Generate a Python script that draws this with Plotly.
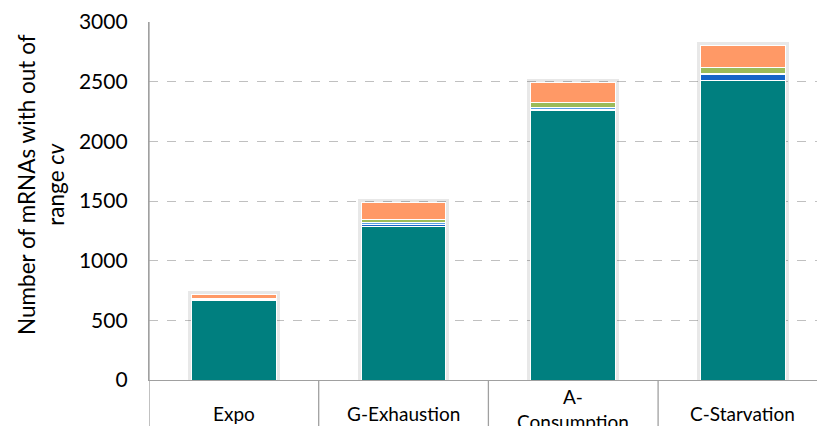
import plotly.graph_objects as go

categories = ["Expo", "G-Exhaustion", "A-Consumption", "C-Starvation"]
category_labels = ["Expo", "G-Exhaustion", "A-<br>Consumption", "C-Starvation"]
teal_vals = [668, 1285, 2257, 2512]
blue_vals = [4, 20, 6, 45]
lightblue_vals = [3, 15, 20, 8]
green_vals = [5, 25, 40, 50]
orange_vals = [40, 140, 170, 185]
y_ticks = [0, 500, 1000, 1500, 2000, 2500, 3000]

series = [
    ("s1", teal_vals, "#007F7F"),
    ("s2", blue_vals, "#1565C8"),
    ("s3", lightblue_vals, "#5A9FE6"),
    ("s4", green_vals, "#9BBB59"),
    ("s5", orange_vals, "#FF9966"),
]

FONT = "Lato"
W, H = 817, 426
ML, MR, MT, MB = 149, 0, 22, 46
pw = W - ML - MR
ph = H - MT - MB
CAT_W = 169.7

totals = [sum(v) for v in zip(teal_vals, blue_vals, lightblue_vals, green_vals, orange_vals)]

fig = go.Figure()
# soft shadow behind each stacked column (drawn on the base axis)
SH_W = 0.54
pad = (SH_W - 0.5) / 2 * CAT_W * 3000 / ph
fig.add_trace(go.Bar(
    x=categories, y=[t + pad for t in totals], width=SH_W,
    marker=dict(color="rgba(0,0,0,0.09)", line=dict(width=0)),
    showlegend=False, hoverinfo="skip", xaxis="x", yaxis="y",
))

for name, vals, col in series:
    fig.add_trace(go.Bar(
        x=categories, y=vals, name=name,
        marker=dict(color=col, line=dict(color="white", width=1)),
        width=0.5, showlegend=False, xaxis="x2", yaxis="y",
    ))

# category separators extending below the axis
shapes = []
for i in range(len(categories)):
    shapes.append(dict(type="line", xref="x", yref="paper",
                       x0=i - 0.5, x1=i - 0.5, y0=1 if i == 0 else 0, y1=-0.3,
                       line=dict(color="#A0A0A0", width=1.3)))

annotations = []
for cat, lab in zip(categories, category_labels):
    two = "<br>" in lab
    py = 409 if two else 413
    annotations.append(dict(x=cat, xref="x", y=(MT + ph - py) / ph, yref="paper",
                            text=lab, showarrow=False, xanchor="center", yanchor="middle",
                            font=dict(family=FONT, size=19, color="#000000")))

annotations.append(dict(x=(41 - ML) / pw, xref="paper", y=(MT + ph - 185) / ph, yref="paper",
                        text="Number of mRNAs with out of<br>range <i>cv</i>", textangle=-90,
                        showarrow=False, xanchor="center", yanchor="middle",
                        font=dict(family=FONT, size=22.5, color="#000000")))

xrange = [-0.5, (W - ML) / CAT_W - 0.5]
fig.update_layout(
    barmode="stack",
    width=W, height=H,
    margin=dict(l=ML, r=MR, t=MT, b=MB, autoexpand=False),
    paper_bgcolor="white", plot_bgcolor="white",
    shapes=shapes, annotations=annotations,
    xaxis=dict(range=xrange, showticklabels=False, ticks="",
               showgrid=False, showline=True, linecolor="#A0A0A0", linewidth=1.3,
               zeroline=False, type="category", automargin=False),
    xaxis2=dict(range=xrange, overlaying="x", showticklabels=False, ticks="",
                showgrid=False, showline=False, zeroline=False, type="category",
                automargin=False),
    yaxis=dict(range=[0, 3000], tickvals=y_ticks, ticktext=[str(v) for v in y_ticks],
               showgrid=True, gridcolor="#C0C0C0", griddash="dash", gridwidth=1,
               zeroline=False, showline=True, linecolor="#A0A0A0", linewidth=1.3,
               ticks="", ticklabelstandoff=16, automargin=False,
               tickfont=dict(family=FONT, size=21, color="#000000")),
)

fig.write_html("out.html", config={"displayModeBar": False},
               post_script="document.body.style.margin='0';document.body.style.overflow='hidden';")
